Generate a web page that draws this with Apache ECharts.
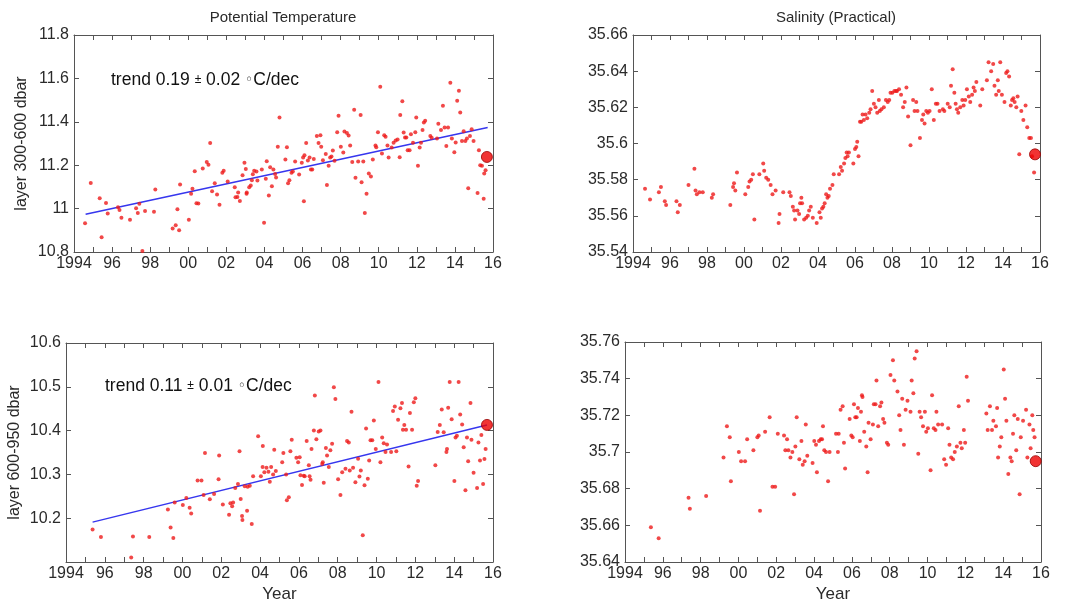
<!DOCTYPE html>
<html><head><meta charset="utf-8">
<script src="https://cdn.jsdelivr.net/npm/echarts/dist/echarts.min.js"></script>
<style>html,body{margin:0;padding:0;background:#fff}#c{width:1065px;height:604px}</style>
</head><body><div id="c"></div>
<script>
// ---------------- DATA ----------------
const panelTitles = ['Potential Temperature', 'Salinity (Practical)'];
const layerNames = ['layer 300-600 dbar', 'layer 600-950 dbar'];
const xName = 'Year';
const yearTicks = [1994, 2016, 2];
const yTicks = [[10.8, 11.8, 0.2], [35.54, 35.66, 0.02], [10.1, 10.6, 0.1], [35.64, 35.76, 0.02]];
const trendLabels = [['0.19', '0.02'], ['0.11', '0.01']];

const tempUpper = [[1994.58,10.932],[1994.88,11.118],[1995.35,11.048],[1995.45,10.868],[1995.68,11.026],[1995.77,10.977],[1996.31,11.006],[1996.39,10.994],[1996.49,10.958],[1996.94,10.949],[1997.26,11.002],[1997.35,10.98],[1997.43,11.022],[1997.59,10.805],[1997.73,10.989],[1998.2,10.986],[1998.27,11.088],[1999.18,10.908],[1999.34,10.923],[1999.43,10.997],[1999.52,10.9],[1999.57,11.111],[2000.03,10.949],[2000.15,11.069],[2000.22,11.092],[2000.34,11.172],[2000.43,11.025],[2000.53,11.023],[2000.76,11.185],[2000.97,11.215],[2001.06,11.202],[2001.15,11.302],[2001.25,11.08],[2001.39,11.117],[2001.51,11.065],[2001.64,11.018],[2001.79,11.165],[2001.86,11.174],[2002.07,11.125],[2002.44,11.098],[2002.48,11.052],[2002.58,11.054],[2002.62,11.074],[2002.71,11.035],[2002.85,11.154],[2002.95,11.211],[2003.02,11.182],[2003.06,11.068],[2003.07,11.074],[2003.2,11.098],[2003.28,11.106],[2003.34,11.131],[2003.39,11.158],[2003.46,11.174],[2003.58,11.171],[2003.63,11.129],[2003.86,11.18],[2003.98,10.935],[2004.07,11.137],[2004.12,11.218],[2004.23,11.06],[2004.3,11.191],[2004.39,11.103],[2004.47,11.18],[2004.56,11.16],[2004.61,11.143],[2004.7,11.285],[2004.79,11.42],[2005.1,11.226],[2005.18,11.283],[2005.24,11.117],[2005.31,11.131],[2005.42,11.165],[2005.49,11.171],[2005.61,11.217],[2005.82,11.157],[2005.96,11.211],[2006.03,11.235],[2006.07,11.034],[2006.1,11.246],[2006.19,11.302],[2006.28,11.222],[2006.37,11.235],[2006.44,11.18],[2006.51,11.18],[2006.59,11.228],[2006.75,11.334],[2006.84,11.302],[2006.94,11.338],[2006.98,11.285],[2007.07,11.223],[2007.22,11.252],[2007.28,11.109],[2007.37,11.198],[2007.45,11.235],[2007.52,11.24],[2007.59,11.268],[2007.68,11.22],[2007.82,11.352],[2007.89,11.428],[2008.01,11.285],[2008.14,11.258],[2008.2,11.355],[2008.33,11.348],[2008.42,11.337],[2008.5,11.291],[2008.61,11.215],[2008.71,11.455],[2008.78,11.142],[2008.92,11.217],[2009.05,11.431],[2009.1,11.122],[2009.19,11.217],[2009.27,10.98],[2009.36,11.068],[2009.48,11.162],[2009.59,11.148],[2009.69,11.226],[2009.83,11.291],[2009.87,11.283],[2009.96,11.352],[2010.08,11.562],[2010.17,11.254],[2010.29,11.338],[2010.36,11.331],[2010.46,11.291],[2010.52,11.235],[2010.68,11.282],[2010.78,11.303],[2010.89,11.314],[2010.99,11.318],[2011.1,11.237],[2011.13,11.431],[2011.24,11.495],[2011.31,11.351],[2011.38,11.328],[2011.45,11.328],[2011.52,11.269],[2011.62,11.269],[2011.69,11.343],[2011.8,11.303],[2011.92,11.352],[2011.97,11.42],[2012.06,11.197],[2012.15,11.282],[2012.22,11.303],[2012.3,11.362],[2012.37,11.397],[2012.44,11.405],[2012.71,11.334],[2012.78,11.326],[2013.06,11.323],[2013.13,11.391],[2013.27,11.362],[2013.37,11.474],[2013.46,11.374],[2013.55,11.288],[2013.64,11.374],[2013.76,11.58],[2013.84,11.323],[2013.97,11.26],[2014.04,11.305],[2014.12,11.497],[2014.21,11.543],[2014.28,11.443],[2014.37,11.311],[2014.46,11.357],[2014.55,11.312],[2014.63,11.323],[2014.7,11.094],[2014.79,11.334],[2014.88,11.366],[2014.98,11.312],[2015.19,11.072],[2015.26,11.269],[2015.33,11.2],[2015.42,11.197],[2015.51,11.045],[2015.54,11.162],[2015.61,11.177]];
const tempUpperLast = [[2015.68, 11.238]];
const tempUpperTrend = [[1994.61, 10.974], [2015.72, 11.374]];

const salUpper = [[1994.65,35.575],[1994.92,35.569],[1995.4,35.573],[1995.51,35.576],[1995.72,35.568],[1995.79,35.566],[1996.35,35.568],[1996.42,35.562],[1996.53,35.566],[1997.0,35.577],[1997.32,35.586],[1997.38,35.574],[1997.45,35.572],[1997.59,35.573],[1997.77,35.573],[1998.26,35.57],[1998.33,35.572],[1999.26,35.566],[1999.41,35.576],[1999.46,35.578],[1999.53,35.574],[1999.62,35.584],[2000.07,35.572],[2000.23,35.576],[2000.3,35.579],[2000.39,35.58],[2000.48,35.583],[2000.56,35.558],[2000.83,35.583],[2001.04,35.589],[2001.09,35.585],[2001.2,35.581],[2001.31,35.58],[2001.44,35.577],[2001.54,35.572],[2001.71,35.574],[2001.87,35.556],[2001.92,35.561],[2002.12,35.573],[2002.46,35.573],[2002.53,35.571],[2002.64,35.565],[2002.71,35.563],[2002.76,35.558],[2002.89,35.563],[2002.98,35.561],[2003.03,35.567],[2003.1,35.57],[2003.14,35.567],[2003.25,35.558],[2003.36,35.559],[2003.45,35.56],[2003.52,35.563],[2003.61,35.565],[2003.72,35.559],[2003.93,35.556],[2004.08,35.562],[2004.15,35.559],[2004.22,35.564],[2004.29,35.565],[2004.36,35.567],[2004.44,35.572],[2004.51,35.57],[2004.58,35.571],[2004.65,35.575],[2004.78,35.577],[2004.85,35.583],[2005.14,35.583],[2005.23,35.587],[2005.3,35.585],[2005.41,35.589],[2005.48,35.592],[2005.55,35.595],[2005.6,35.593],[2005.67,35.595],[2005.91,35.589],[2006.0,35.597],[2006.07,35.598],[2006.12,35.601],[2006.19,35.593],[2006.27,35.612],[2006.34,35.612],[2006.41,35.616],[2006.48,35.613],[2006.57,35.616],[2006.66,35.614],[2006.77,35.617],[2006.84,35.619],[2006.93,35.629],[2007.02,35.622],[2007.11,35.62],[2007.2,35.617],[2007.29,35.624],[2007.34,35.618],[2007.43,35.619],[2007.56,35.62],[2007.67,35.624],[2007.77,35.623],[2007.85,35.624],[2007.92,35.628],[2008.02,35.628],[2008.13,35.629],[2008.22,35.629],[2008.27,35.629],[2008.38,35.63],[2008.49,35.627],[2008.6,35.62],[2008.69,35.623],[2008.78,35.631],[2008.87,35.615],[2009.0,35.599],[2009.14,35.624],[2009.22,35.618],[2009.31,35.623],[2009.38,35.618],[2009.51,35.603],[2009.62,35.613],[2009.69,35.616],[2009.76,35.611],[2009.85,35.618],[2009.94,35.617],[2010.03,35.618],[2010.15,35.63],[2010.26,35.613],[2010.37,35.622],[2010.46,35.622],[2010.57,35.618],[2010.75,35.619],[2010.83,35.618],[2011.01,35.622],[2011.12,35.62],[2011.19,35.632],[2011.28,35.641],[2011.37,35.628],[2011.44,35.622],[2011.51,35.619],[2011.58,35.617],[2011.69,35.62],[2011.8,35.624],[2011.87,35.621],[2011.96,35.624],[2012.05,35.63],[2012.15,35.626],[2012.23,35.623],[2012.33,35.627],[2012.41,35.631],[2012.48,35.629],[2012.56,35.634],[2012.77,35.621],[2012.88,35.63],[2013.13,35.635],[2013.22,35.645],[2013.36,35.64],[2013.47,35.644],[2013.54,35.632],[2013.63,35.627],[2013.72,35.635],[2013.77,35.629],[2013.85,35.645],[2013.94,35.627],[2014.08,35.623],[2014.17,35.639],[2014.24,35.64],[2014.33,35.637],[2014.42,35.621],[2014.49,35.624],[2014.56,35.625],[2014.63,35.623],[2014.72,35.62],[2014.79,35.626],[2014.88,35.594],[2014.99,35.618],[2015.1,35.613],[2015.22,35.621],[2015.31,35.609],[2015.42,35.603],[2015.51,35.603],[2015.57,35.593],[2015.68,35.584]];
const salUpperLast = [[2015.73, 35.594]];

const tempLower = [[1995.37,10.174],[1995.8,10.157],[1997.36,10.11],[1997.45,10.158],[1998.29,10.157],[1999.25,10.22],[1999.39,10.179],[1999.53,10.155],[1999.6,10.236],[2000.02,10.23],[2000.2,10.246],[2000.37,10.224],[2000.45,10.211],[2000.78,10.286],[2000.98,10.286],[2001.09,10.253],[2001.16,10.349],[2001.41,10.243],[2001.63,10.255],[2001.86,10.289],[2001.89,10.343],[2002.08,10.231],[2002.4,10.208],[2002.47,10.234],[2002.56,10.227],[2002.61,10.236],[2002.72,10.269],[2002.86,10.278],[2002.94,10.353],[2003.0,10.244],[2003.07,10.205],[2003.09,10.196],[2003.21,10.273],[2003.33,10.217],[2003.36,10.272],[2003.47,10.274],[2003.57,10.187],[2003.64,10.296],[2003.9,10.387],[2004.04,10.296],[2004.13,10.317],[2004.14,10.365],[2004.22,10.305],[2004.33,10.315],[2004.43,10.306],[2004.5,10.283],[2004.57,10.317],[2004.67,10.3],[2004.73,10.356],[2004.81,10.308],[2005.14,10.328],[2005.2,10.349],[2005.34,10.3],[2005.38,10.241],[2005.48,10.248],[2005.56,10.353],[2005.63,10.379],[2005.87,10.338],[2005.96,10.328],[2006.04,10.339],[2006.08,10.298],[2006.16,10.276],[2006.25,10.297],[2006.3,10.296],[2006.4,10.376],[2006.51,10.321],[2006.55,10.296],[2006.6,10.288],[2006.65,10.358],[2006.77,10.4],[2006.82,10.48],[2006.9,10.38],[2007.02,10.398],[2007.11,10.4],[2007.2,10.324],[2007.23,10.328],[2007.28,10.281],[2007.39,10.36],[2007.45,10.343],[2007.54,10.317],[2007.62,10.355],[2007.71,10.37],[2007.8,10.499],[2007.88,10.472],[2008.02,10.289],[2008.14,10.253],[2008.23,10.305],[2008.4,10.313],[2008.48,10.376],[2008.57,10.373],[2008.62,10.309],[2008.71,10.443],[2008.79,10.315],[2008.91,10.282],[2009.05,10.336],[2009.12,10.295],[2009.19,10.309],[2009.29,10.161],[2009.38,10.275],[2009.46,10.405],[2009.55,10.29],[2009.62,10.332],[2009.69,10.378],[2009.78,10.378],[2009.86,10.423],[2009.96,10.358],[2010.1,10.511],[2010.2,10.328],[2010.29,10.384],[2010.37,10.371],[2010.46,10.351],[2010.54,10.368],[2010.75,10.351],[2010.85,10.445],[2010.94,10.455],[2011.02,10.353],[2011.11,10.425],[2011.23,10.451],[2011.31,10.463],[2011.36,10.402],[2011.43,10.413],[2011.52,10.402],[2011.65,10.318],[2011.72,10.44],[2011.83,10.402],[2011.92,10.465],[2012.0,10.474],[2012.07,10.274],[2012.14,10.285],[2013.03,10.321],[2013.15,10.397],[2013.26,10.413],[2013.36,10.448],[2013.46,10.396],[2013.6,10.351],[2013.63,10.358],[2013.69,10.452],[2013.77,10.511],[2013.87,10.426],[2014.01,10.285],[2014.07,10.384],[2014.14,10.388],[2014.23,10.511],[2014.31,10.437],[2014.41,10.414],[2014.49,10.362],[2014.58,10.264],[2014.66,10.384],[2014.72,10.33],[2014.84,10.463],[2014.89,10.379],[2015.0,10.304],[2015.18,10.269],[2015.25,10.373],[2015.33,10.332],[2015.4,10.39],[2015.49,10.278],[2015.56,10.335],[2015.62,10.358]];
const tempLowerLast = [[2015.69, 10.413]];
const tempLowerTrend = [[1995.37, 10.191], [2015.69, 10.413]];

const salLower = [[1995.37,35.659],[1995.78,35.653],[1997.36,35.675],[1997.43,35.669],[1998.29,35.676],[1999.21,35.697],[1999.39,35.714],[1999.54,35.708],[1999.6,35.684],[2000.02,35.7],[2000.14,35.695],[2000.35,35.695],[2000.46,35.707],[2000.79,35.701],[2001.0,35.708],[2001.07,35.709],[2001.14,35.668],[2001.41,35.711],[2001.65,35.719],[2001.8,35.681],[2001.94,35.681],[2002.08,35.71],[2002.41,35.709],[2002.48,35.701],[2002.57,35.707],[2002.64,35.701],[2002.75,35.697],[2002.85,35.7],[2002.94,35.677],[2003.01,35.703],[2003.08,35.719],[2003.22,35.696],[2003.33,35.706],[2003.4,35.693],[2003.5,35.695],[2003.56,35.715],[2003.64,35.698],[2003.92,35.694],[2004.01,35.706],[2004.1,35.704],[2004.15,35.689],[2004.26,35.706],[2004.35,35.707],[2004.42,35.707],[2004.47,35.714],[2004.54,35.701],[2004.63,35.7],[2004.74,35.684],[2004.82,35.7],[2005.16,35.71],[2005.26,35.7],[2005.3,35.71],[2005.4,35.723],[2005.51,35.725],[2005.58,35.705],[2005.64,35.691],[2005.88,35.718],[2005.97,35.709],[2006.04,35.708],[2006.11,35.726],[2006.18,35.719],[2006.25,35.719],[2006.32,35.724],[2006.42,35.706],[2006.48,35.722],[2006.53,35.731],[2006.56,35.73],[2006.65,35.711],[2006.76,35.703],[2006.83,35.689],[2006.88,35.716],[2006.99,35.707],[2007.11,35.715],[2007.16,35.726],[2007.25,35.726],[2007.3,35.739],[2007.39,35.714],[2007.49,35.725],[2007.56,35.727],[2007.65,35.718],[2007.72,35.716],[2007.85,35.705],[2007.92,35.704],[2008.04,35.742],[2008.17,35.75],[2008.24,35.739],[2008.41,35.733],[2008.5,35.72],[2008.57,35.712],[2008.66,35.729],[2008.75,35.704],[2008.84,35.723],[2008.94,35.728],[2009.1,35.722],[2009.16,35.739],[2009.25,35.732],[2009.32,35.751],[2009.42,35.755],[2009.51,35.699],[2009.58,35.722],[2009.66,35.719],[2009.76,35.714],[2009.86,35.722],[2009.93,35.711],[2010.02,35.713],[2010.16,35.69],[2010.24,35.731],[2010.33,35.713],[2010.42,35.712],[2010.47,35.722],[2010.56,35.715],[2010.77,35.715],[2010.88,35.696],[2010.98,35.693],[2011.09,35.713],[2011.16,35.704],[2011.25,35.697],[2011.35,35.696],[2011.44,35.7],[2011.55,35.703],[2011.65,35.725],[2011.74,35.705],[2011.81,35.702],[2011.92,35.712],[2011.99,35.705],[2012.07,35.741],[2012.14,35.728],[2013.11,35.721],[2013.18,35.712],[2013.3,35.725],[2013.41,35.712],[2013.48,35.717],[2013.62,35.714],[2013.68,35.724],[2013.73,35.697],[2013.82,35.703],[2013.9,35.708],[2014.03,35.745],[2014.1,35.729],[2014.17,35.717],[2014.27,35.688],[2014.38,35.697],[2014.45,35.695],[2014.52,35.71],[2014.59,35.72],[2014.69,35.701],[2014.77,35.718],[2014.87,35.677],[2014.93,35.708],[2015.05,35.717],[2015.21,35.723],[2015.28,35.697],[2015.39,35.715],[2015.45,35.702],[2015.54,35.72],[2015.59,35.712],[2015.66,35.708]];
const salLowerLast = [[2015.72, 35.695]];

// ---------------- CHART ----------------
const FONT = '"Liberation Sans", Arial, Helvetica, sans-serif';
const AX = '#555';
const TXT = '#2a2a2a';
const grids = [
  {left: 74, top: 35, width: 419, height: 217},
  {left: 633, top: 35, width: 407, height: 217},
  {left: 66, top: 343, width: 427, height: 219},
  {left: 625, top: 342, width: 416, height: 220}
];
const fmtYear = v => v === yearTicks[0] ? String(v) : String(v % 100).padStart(2, '0');
const fmtY = (lo) => v => (Math.abs(v - lo) < 1e-9 && lo === 10.1) ? '' : String(+v.toFixed(3));

const xAxes = [], yAxes = [];
grids.forEach((g, i) => {
  const base = {
    gridIndex: i, type: 'value', min: yearTicks[0], max: yearTicks[1], interval: yearTicks[2],
    axisLine: {show: true, onZero: false, lineStyle: {color: AX, width: 1}},
    axisTick: {show: true, inside: true, length: 5, lineStyle: {color: AX}},
    minorTick: {show: true, splitNumber: 2, length: 5, lineStyle: {color: AX}},
    splitLine: {show: false}
  };
  xAxes.push(Object.assign({}, base, {
    position: 'bottom',
    axisLabel: {formatter: fmtYear, color: TXT, fontSize: 16, fontFamily: FONT, margin: 4},
    name: i >= 2 ? xName : '', nameLocation: 'middle', nameGap: 24,
    nameTextStyle: {color: TXT, fontSize: 17, fontFamily: FONT}
  }));
  xAxes.push(Object.assign({}, base, {position: 'top', axisLabel: {show: false}}));
  const [lo, hi, step] = yTicks[i];
  const ybase = {
    gridIndex: i, type: 'value', min: lo, max: hi, interval: step,
    axisLine: {show: true, onZero: false, lineStyle: {color: AX, width: 1}},
    axisTick: {show: true, inside: true, length: 5, lineStyle: {color: AX}},
    splitLine: {show: false}
  };
  yAxes.push(Object.assign({}, ybase, {
    position: 'left',
    axisLabel: {formatter: fmtY(lo), color: TXT, fontSize: 16, fontFamily: FONT, margin: 5},
    name: i === 0 ? layerNames[0] : (i === 2 ? layerNames[1] : ''),
    nameLocation: 'middle', nameGap: i === 0 ? 44 : 43,
    nameTextStyle: {color: TXT, fontSize: 16, fontFamily: FONT}
  }));
  yAxes.push(Object.assign({}, ybase, {position: 'right', axisLabel: {show: false}}));
});

const DOT = '#ee1a1a';
function dots(data, i) {
  return {type: 'scatter', xAxisIndex: 2 * i, yAxisIndex: 2 * i, data: data, symbolSize: 4,
    itemStyle: {color: DOT}, silent: true, z: 3};
}
function last(data, i) {
  return {type: 'scatter', xAxisIndex: 2 * i, yAxisIndex: 2 * i, data: data, symbolSize: 11,
    itemStyle: {color: '#ee0000', borderColor: '#990000', borderWidth: 1}, silent: true, z: 5};
}
function trend(data, i) {
  return {type: 'line', xAxisIndex: 2 * i, yAxisIndex: 2 * i, data: data, symbol: 'none',
    lineStyle: {color: '#3636ee', width: 1.5}, silent: true, z: 2};
}

const richTrend = {
  a: {fontSize: 17.5, fontFamily: FONT, fill: '#111', color: '#111'},
  b: {fontSize: 12, fontFamily: FONT, fill: '#111', color: '#111'},
  c: {fontSize: 14, fontFamily: '"DejaVu Sans", sans-serif', fill: '#111', color: '#111'}
};
function trendText(k) {
  return '{a|trend ' + trendLabels[k][0] + ' }{b|±}{a| ' + trendLabels[k][1] + ' }{c|◦}{a|C/dec}';
}

const option = {
  backgroundColor: '#fff',
  animation: false,
  grid: grids.map(g => Object.assign({containLabel: false}, g)),
  xAxis: xAxes,
  yAxis: yAxes,
  series: [
    trend(tempUpperTrend, 0), dots(tempUpper, 0), last(tempUpperLast, 0),
    dots(salUpper, 1), last(salUpperLast, 1),
    trend(tempLowerTrend, 2), dots(tempLower, 2), last(tempLowerLast, 2),
    dots(salLower, 3), last(salLowerLast, 3)
  ],
  graphic: [
    {type: 'text', x: 283, y: 18, style: {text: panelTitles[0], font: '15px ' + FONT, fill: TXT, align: 'center', verticalAlign: 'middle'}},
    {type: 'text', x: 836, y: 18, style: {text: panelTitles[1], font: '15px ' + FONT, fill: TXT, align: 'center', verticalAlign: 'middle'}},
    {type: 'text', x: 111, y: 80, z: 10, style: {text: trendText(0), rich: richTrend, fill: '#111', align: 'left', verticalAlign: 'middle'}},
    {type: 'text', x: 105, y: 386, z: 10, style: {text: trendText(1), rich: richTrend, fill: '#111', align: 'left', verticalAlign: 'middle'}}
  ]
};
const chart = echarts.init(document.getElementById('c'), null, {renderer: 'canvas'});
chart.setOption(option);
</script></body></html>
